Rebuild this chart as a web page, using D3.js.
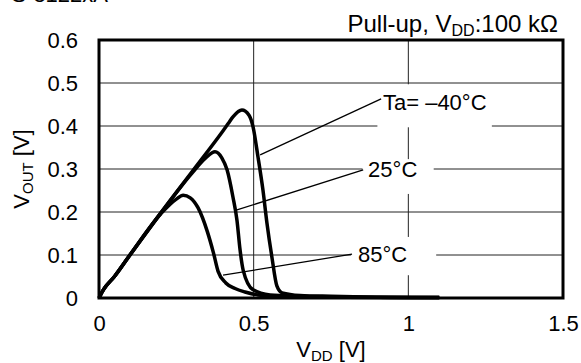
<!DOCTYPE html>
<html>
<head>
<meta charset="utf-8">
<script src="https://cdn.jsdelivr.net/npm/d3@7/dist/d3.min.js"></script>
<style>
  body { margin: 0; background: #fff; }
  svg { display: block; }
  text { font-family: "Liberation Sans", Arial, sans-serif; fill: #000; }
</style>
</head>
<body>
<div id="chart"></div>
<script>
var w = 581,
    h = 363;
var margin = { top: 40, right: 18, bottom: 65, left: 99 };

// curves (VDD [V], VOUT [V])
var vdd40 = [0, 0.015, 0.05, 0.1, 0.2, 0.3, 0.4, 0.417, 0.433, 0.462, 0.485, 0.498, 0.514, 0.53, 0.543, 0.559, 0.575, 0.592, 0.65, 0.75, 0.9, 1.1];
var vout40 = [0, 0.02, 0.05, 0.1, 0.198, 0.293, 0.388, 0.405, 0.421, 0.437, 0.425, 0.398, 0.328, 0.251, 0.174, 0.095, 0.028, 0.012, 0.006, 0.004, 0.002, 0.001];

var vdd25 = [0, 0.015, 0.05, 0.1, 0.2, 0.3, 0.345, 0.375, 0.397, 0.414, 0.433, 0.446, 0.456, 0.466, 0.498, 0.553, 0.65, 0.8, 1.1];
var vout25 = [0, 0.02, 0.05, 0.1, 0.198, 0.29, 0.326, 0.34, 0.326, 0.298, 0.235, 0.181, 0.112, 0.065, 0.019, 0.007, 0.004, 0.002, 0.001];

var vdd85 = [0, 0.015, 0.05, 0.1, 0.2, 0.25, 0.272, 0.295, 0.32, 0.35, 0.37, 0.385, 0.41, 0.44, 0.472, 0.514, 0.62, 0.8, 1.1];
var vout85 = [0, 0.02, 0.05, 0.1, 0.196, 0.23, 0.239, 0.233, 0.21, 0.155, 0.105, 0.062, 0.035, 0.022, 0.014, 0.007, 0.003, 0.002, 0.001];

var xTicks = [0, 0.5, 1, 1.5];
var yTicks = [0, 0.1, 0.2, 0.3, 0.4, 0.5, 0.6];
var xGrid = [0.5, 1];
var yGrid = [0.1, 0.2, 0.3, 0.4, 0.5];

// labels: text, text pos, white box [x0,x1,y0,y1], leader [x0,y0,x1,y1]
var labelText = ["Ta= \u201340\u00b0C", "25\u00b0C", "85\u00b0C"];
var labelPos = [[0.918, 0.437], [0.870, 0.281], [0.837, 0.084]];
var labelBox = [[0.90, 1.27, 0.397, 0.497], [0.852, 1.082, 0.242, 0.323], [0.815, 1.09, 0.053, 0.142]];
var leaders = [[0.521, 0.333, 0.912, 0.463], [0.446, 0.205, 0.854, 0.298], [0.401, 0.053, 0.818, 0.102]];

var svg = d3.select("#chart").append("svg").attr("width", w).attr("height", h);

var x = d3.scaleLinear().domain([0, 1.5]).range([margin.left, w - margin.right]);
var y = d3.scaleLinear().domain([0, 0.6]).range([h - margin.bottom, margin.top]);

// grid
svg.append("g")
    .selectAll("line")
    .data(xGrid)
    .join("line")
    .attr("x1", d => x(d)).attr("x2", d => x(d))
    .attr("y1", y(0)).attr("y2", y(0.6))
    .attr("stroke", "#222").attr("stroke-width", 1);
svg.append("g")
    .selectAll("line")
    .data(yGrid)
    .join("line")
    .attr("x1", x(0)).attr("x2", x(1.5))
    .attr("y1", d => y(d)).attr("y2", d => y(d))
    .attr("stroke", "#222").attr("stroke-width", 1);

// white boxes behind labels
svg.append("g")
    .selectAll("rect")
    .data(labelBox)
    .join("rect")
    .attr("x", d => x(d[0])).attr("width", d => x(d[1]) - x(d[0]))
    .attr("y", d => y(d[3])).attr("height", d => y(d[2]) - y(d[3]))
    .attr("fill", "#fff");

// frame
svg.append("rect")
    .attr("x", x(0)).attr("y", y(0.6))
    .attr("width", x(1.5) - x(0)).attr("height", y(0) - y(0.6))
    .attr("fill", "none").attr("stroke", "#000").attr("stroke-width", 3);

// axes
var xAxis = svg.append("g")
    .attr("transform", "translate(0," + y(0) + ")")
    .call(d3.axisBottom(x).tickValues(xTicks).tickFormat(d3.format("")).tickSize(0).tickPadding(17));
var yAxis = svg.append("g")
    .attr("transform", "translate(" + x(0) + ",0)")
    .call(d3.axisLeft(y).tickValues(yTicks).tickFormat(d => d === 0 ? "0" : d3.format(".1f")(d)).tickSize(0).tickPadding(21));
[xAxis, yAxis].forEach(function (a) {
    a.select(".domain").remove();
    a.selectAll("text").attr("font-size", 22).attr("font-family", null);
});

// leaders
svg.append("g")
    .selectAll("line")
    .data(leaders)
    .join("line")
    .attr("x1", d => x(d[0])).attr("y1", d => y(d[1]))
    .attr("x2", d => x(d[2])).attr("y2", d => y(d[3]))
    .attr("stroke", "#000").attr("stroke-width", 1.3);

// curves
var line = d3.line().x(d => x(d[0])).y(d => y(d[1])).curve(d3.curveMonotoneX);
[[vdd40, vout40], [vdd25, vout25], [vdd85, vout85]].forEach(function (s) {
    svg.append("path")
        .datum(d3.zip(s[0], s[1]))
        .attr("d", line)
        .attr("fill", "none")
        .attr("stroke", "#000")
        .attr("stroke-width", 3.5)
        .attr("stroke-linejoin", "round");
});

// label texts
svg.append("g")
    .selectAll("text")
    .data(labelText)
    .join("text")
    .attr("x", (d, i) => x(labelPos[i][0]))
    .attr("y", (d, i) => y(labelPos[i][1]))
    .attr("font-size", 22)
    .text(d => d);

// title
var title = svg.append("text")
    .attr("x", 558).attr("y", 32)
    .attr("text-anchor", "end")
    .attr("font-size", 24);
title.append("tspan").text("Pull-up, V");
title.append("tspan").attr("font-size", 16).attr("dy", 4).text("DD");
title.append("tspan").attr("dy", -4).text(":100 k\u03a9");

// cut-off part number at top
svg.append("text")
    .attr("x", 108).attr("y", 2)
    .attr("text-anchor", "end")
    .attr("font-size", 22)
    .text("S-8122xA");

// axis titles
var xl = svg.append("text")
    .attr("x", (x(0) + x(1.5)) / 2).attr("y", 357)
    .attr("text-anchor", "middle")
    .attr("font-size", 22);
xl.append("tspan").text("V");
xl.append("tspan").attr("font-size", 15).attr("dy", 4).text("DD");
xl.append("tspan").attr("dy", -4).text(" [V]");

var yl = svg.append("text")
    .attr("transform", "translate(29," + (y(0.3)) + ") rotate(-90)")
    .attr("text-anchor", "middle")
    .attr("font-size", 22);
yl.append("tspan").text("V");
yl.append("tspan").attr("font-size", 15).attr("dy", 4).text("OUT");
yl.append("tspan").attr("dy", -4).text(" [V]");
</script>
</body>
</html>
